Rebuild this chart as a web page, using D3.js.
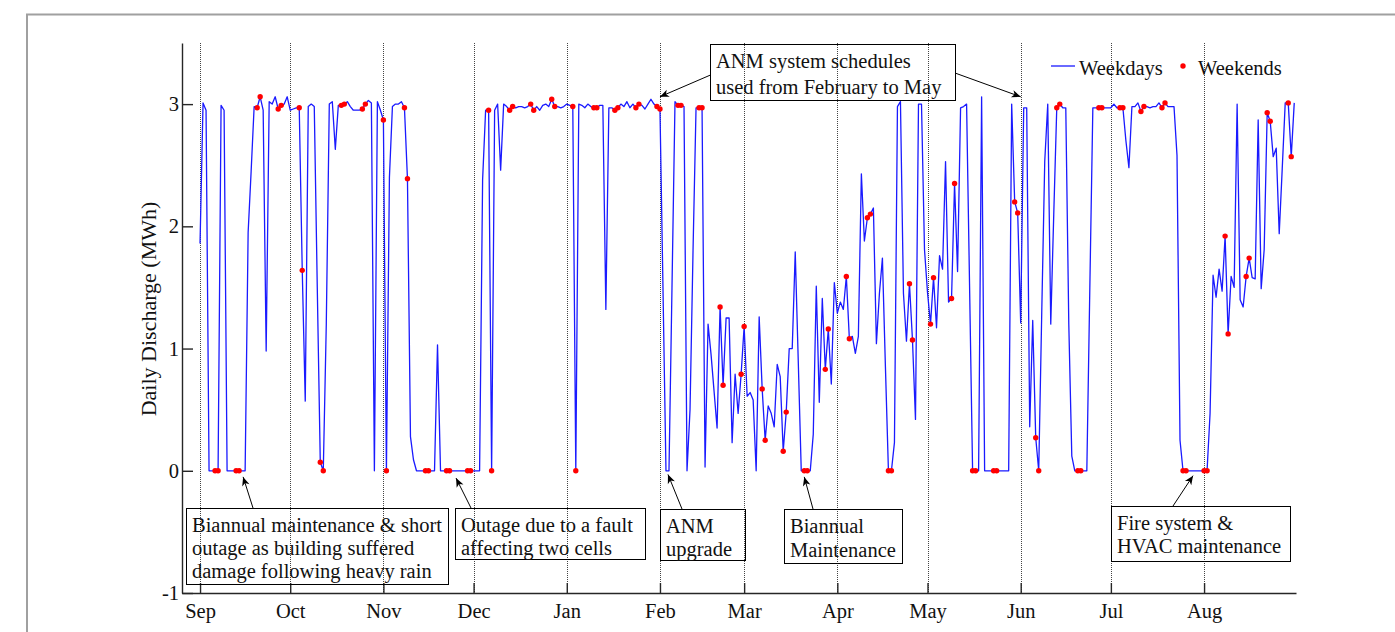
<!DOCTYPE html>
<html>
<head>
<meta charset="utf-8">
<script src="https://cdn.jsdelivr.net/npm/d3@7"></script>
<style>
  body { margin: 0; background: #fff; }
  text { font-family: "Liberation Serif", "Times New Roman", serif; }
</style>
</head>
<body>
<div id="chart"></div>
<script>
// daily discharge (MWh), one array per month, Sep 2014 .. Aug 2015
var sep = [1.86, 3.01, 2.95, 0, 0, 0, 0, 2.99, 2.95, 0, 0, 0, 0, 0, 0, 0, 1.95, 2.45, 2.98, 2.97,
           3.06, 2.95, 0.98, 3.02, 3.0, 3.06, 2.96, 2.99, 3.0, 3.06];
var oct = [2.95, 2.96, 2.97, 2.97, 1.64, 0.57, 2.98, 3.0, 2.98, 1.5, 0.07, 0, 1.2, 3.0, 3.02, 2.63,
           2.99, 2.99, 3.0, 3.02, 2.98, 2.95, 2.95, 2.95, 2.96, 3.0, 3.03, 3.01, 0, 3.02, 2.95];
var nov = [2.87, 0, 2.4, 2.98, 3.0, 3.0, 3.02, 2.97, 2.39, 0.28, 0.09, 0, 0, 0, 0, 0, 0, 0, 1.03, 0,
           0, 0, 0, 0, 0, 0, 0, 0, 0, 0];
var dec = [0, 0, 0, 2.38, 2.95, 2.95, 0, 2.95, 3.0, 2.46, 3.0, 2.98, 2.95, 2.98, 2.97, 2.98, 2.98,
           2.97, 2.98, 3.0, 2.95, 2.98, 2.95, 2.99, 3.0, 2.98, 3.04, 2.98, 2.98, 2.97, 2.98];
var jan = [3.0, 2.99, 2.98, 0, 3.0, 2.99, 2.97, 3.0, 2.98, 2.97, 2.97, 2.99, 2.99, 1.32, 2.97, 2.97,
           2.95, 2.97, 3.0, 2.98, 3.02, 2.97, 3.0, 2.97, 3.0, 2.99, 2.96, 3.0, 3.04, 3.0, 2.98];
var feb = [2.96, 1.5, 0, 0, 1.5, 3.02, 2.99, 2.99, 2.98, 0, 0.5, 1.8, 2.97, 2.97, 2.97, 0.03, 1.2,
           0.95, 0.65, 0.35, 1.34, 0.7, 1.25, 1.25, 0.23, 0.79, 0.47, 0.79];
var mar = [1.18, 0.61, 0.64, 0.58, 0, 1.26, 0.67, 0.25, 0.53, 0.47, 0.36, 0.87, 0.77, 0.16, 0.48,
           1.0, 1.0, 1.79, 0.9, 0, 0, 0, 0, 0.3, 1.51, 0.56, 1.41, 0.83, 1.16, 0.71, 1.54];
var apr = [1.29, 1.38, 1.32, 1.59, 1.08, 1.1, 0.96, 1.1, 2.43, 1.88, 2.07, 2.1, 2.15, 1.04, 1.45,
           1.74, 0.85, 0, 0, 0.23, 2.98, 3.02, 1.45, 1.06, 1.53, 1.07, 0.42, 3.0, 3.0, 1.81];
var may = [1.46, 1.2, 1.58, 1.17, 1.76, 1.65, 2.53, 1.38, 1.41, 2.35, 1.63, 2.97, 2.98, 3.0, 1.5,
           0, 0, 0, 3.06, 0, 0, 0, 0, 0, 0, 0, 0, 0, 3.0, 2.2, 2.11];
var jun = [1.21, 2.97, 2.97, 0.36, 1.23, 0.27, 0, 1.29, 2.53, 3.0, 1.2, 2.1, 2.97, 3.0, 2.97, 2.97,
           1.2, 0.12, 0, 0, 0, 0, 0, 1.5, 2.97, 2.97, 2.97, 2.97, 2.97, 2.97];
var jul = [2.97, 3.0, 2.97, 2.97, 2.97, 2.7, 2.48, 2.98, 2.98, 3.01, 2.94, 2.98, 2.98, 2.97, 2.98,
           2.98, 3.01, 2.97, 3.01, 2.98, 2.98, 2.98, 2.58, 0.25, 0, 0, 0, 0, 0, 0, 0];
var aug = [0, 0, 0.47, 1.6, 1.42, 1.65, 1.47, 1.92, 1.12, 1.59, 1.5, 3.0, 1.4, 1.34, 1.59, 1.74,
           1.58, 1.57, 2.87, 1.49, 1.81, 2.93, 2.86, 2.57, 2.64, 1.94, 2.47, 3.01, 3.01, 2.57, 3.01];

var months = [sep, oct, nov, dec, jan, feb, mar, apr, may, jun, jul, aug];
var yTicks = [-1, 0, 1, 2, 3];
var seriesNames = ["Weekdays", "Weekends"];
var yLabel = "Daily Discharge (MWh)";

// notes: text lines, arrow tip in data units [date, value]
var notes = [
  {lines: ["ANM system schedules", "used from February to May"], tips: [[Date.UTC(2015, 1, 1), 3.06], [Date.UTC(2015, 5, 1), 3.06]]},
  {lines: ["Biannual maintenance & short", "outage as building suffered", "damage following heavy rain"], tips: [[Date.UTC(2014, 8, 15, 8), -0.05]]},
  {lines: ["Outage due to a fault", "affecting two cells"], tips: [[Date.UTC(2014, 10, 25, 4), -0.06]]},
  {lines: ["ANM", "upgrade"], tips: [[Date.UTC(2015, 1, 3, 16), -0.03]]},
  {lines: ["Biannual", "Maintenance"], tips: [[Date.UTC(2015, 2, 21), -0.05]]},
  {lines: ["Fire system &", "HVAC maintenance"], tips: [[Date.UTC(2015, 6, 28, 8), -0.04]]}
];

// box layout in pixels (x, y, w, h, tail points for each tip)
var noteBoxes = [
  {x: 710, y: 44, w: 245, h: 56, lead: 26, tails: [[710.5, 75], [955, 73]]},
  {x: 186, y: 508, w: 262, h: 76, lead: 23, tails: [[253, 508]]},
  {x: 455, y: 508, w: 190, h: 51, lead: 23, tails: [[471, 508]]},
  {x: 660, y: 509, w: 85, h: 51, lead: 23, tails: [[682, 509]]},
  {x: 784, y: 509, w: 118, h: 54, lead: 24, tails: [[813, 509]]},
  {x: 1111, y: 506, w: 179, h: 55, lead: 23, tails: [[1173, 506]]}
];

var start = Date.UTC(2014, 8, 1);
var data = months.flat().map(function (v, i) {
  var d = new Date(start + i * 864e5);
  return {date: d, value: v, weekend: d.getUTCDay() === 0 || d.getUTCDay() === 6};
});

var svg = d3.select("#chart").append("svg")
  .attr("width", 1395)
  .attr("height", 632);

// outer frame
svg.append("rect")
  .attr("x", 27).attr("y", 14.5)
  .attr("width", 1500).attr("height", 800)
  .attr("fill", "none")
  .attr("stroke", "#a0a0a0")
  .attr("stroke-width", 2);

var x = d3.scaleUtc()
  .domain([new Date(Date.UTC(2014, 7, 26)), new Date(Date.UTC(2015, 7, 31, 14))])
  .range([182, 1296]);
var y = d3.scaleLinear()
  .domain([-1, 3.5])
  .range([593, 43]);

var monthTicks = x.ticks(d3.utcMonth.every(1));

// dotted month lines
svg.append("g")
  .selectAll("line")
  .data(monthTicks)
  .join("line")
  .attr("x1", function (d) { return Math.round(x(d)) + 0.5; })
  .attr("x2", function (d) { return Math.round(x(d)) + 0.5; })
  .attr("y1", y(3.5))
  .attr("y2", y(-1))
  .attr("stroke", "#444")
  .attr("stroke-width", 1)
  .attr("stroke-dasharray", "1,1");

// axes
var gx = svg.append("g")
  .attr("transform", "translate(0," + y(-1) + ")")
  .call(d3.axisBottom(x)
    .tickValues(monthTicks)
    .tickFormat(d3.utcFormat("%b"))
    .tickSizeInner(-10)
    .tickSizeOuter(0)
    .tickPadding(10));

var gy = svg.append("g")
  .attr("transform", "translate(182,0)")
  .call(d3.axisLeft(y)
    .tickValues(yTicks)
    .tickFormat(function (d) { return String(d); })
    .tickSizeInner(-11)
    .tickSizeOuter(0)
    .tickPadding(3));

[gx, gy].forEach(function (g) {
  g.attr("font-family", null).attr("font-size", null);
  g.selectAll("path, line").attr("stroke", "#262626").attr("stroke-width", 1.4);
  g.selectAll("text").attr("fill", "#111").style("font-size", "20.5px");
});

svg.append("text")
  .attr("transform", "translate(156,309) rotate(-90)")
  .attr("text-anchor", "middle")
  .style("font-size", "22px")
  .attr("fill", "#111")
  .text(yLabel);

// line + weekend dots
var line = d3.line()
  .x(function (d) { return x(d.date); })
  .y(function (d) { return y(d.value); });

svg.append("path")
  .datum(data)
  .attr("d", line)
  .attr("fill", "none")
  .attr("stroke", "#1a1aff")
  .attr("stroke-width", 1.3)
  .attr("stroke-linejoin", "round");

svg.append("g")
  .selectAll("circle")
  .data(data.filter(function (d) { return d.weekend; }))
  .join("circle")
  .attr("cx", function (d) { return x(d.date); })
  .attr("cy", function (d) { return y(d.value); })
  .attr("r", 2.7)
  .attr("fill", "#ff0000");

// legend
var legend = svg.append("g");
legend.append("line")
  .attr("x1", 1051).attr("x2", 1075).attr("y1", 66).attr("y2", 66)
  .attr("stroke", "#1a1aff").attr("stroke-width", 1.3);
legend.append("text")
  .attr("x", 1079).attr("y", 75)
  .style("font-size", "20.5px").attr("fill", "#111")
  .text(seriesNames[0]);
legend.append("circle")
  .attr("cx", 1183).attr("cy", 66).attr("r", 2.7)
  .attr("fill", "#ff0000");
legend.append("text")
  .attr("x", 1198).attr("y", 75)
  .style("font-size", "20.5px").attr("fill", "#111")
  .text(seriesNames[1]);

// arrow head
svg.append("defs").append("marker")
  .attr("id", "head")
  .attr("viewBox", "-10 -5 12 10")
  .attr("markerWidth", 12).attr("markerHeight", 10)
  .attr("markerUnits", "userSpaceOnUse")
  .attr("refX", 0).attr("refY", 0)
  .attr("orient", "auto")
  .append("path")
  .attr("d", "M0,0L-9,-3.8L-6.5,0L-9,3.8Z")
  .attr("fill", "#000");

// annotations
notes.forEach(function (n, i) {
  var b = noteBoxes[i];
  var g = svg.append("g");
  g.append("rect")
    .attr("x", b.x + 0.5).attr("y", b.y + 0.5)
    .attr("width", b.w).attr("height", b.h)
    .attr("fill", "none")
    .attr("stroke", "#000")
    .attr("stroke-width", 1);
  n.lines.forEach(function (t, j) {
    g.append("text")
      .attr("x", b.x + 6)
      .attr("y", b.y + 24 + j * b.lead)
      .style("font-size", "20.5px")
      .attr("fill", "#111")
      .text(t);
  });
  n.tips.forEach(function (tp, k) {
    g.append("line")
      .attr("x1", b.tails[k][0]).attr("y1", b.tails[k][1])
      .attr("x2", x(new Date(tp[0]))).attr("y2", y(tp[1]))
      .attr("stroke", "#000")
      .attr("stroke-width", 1)
      .attr("marker-end", "url(#head)");
  });
});
</script>
</body>
</html>
